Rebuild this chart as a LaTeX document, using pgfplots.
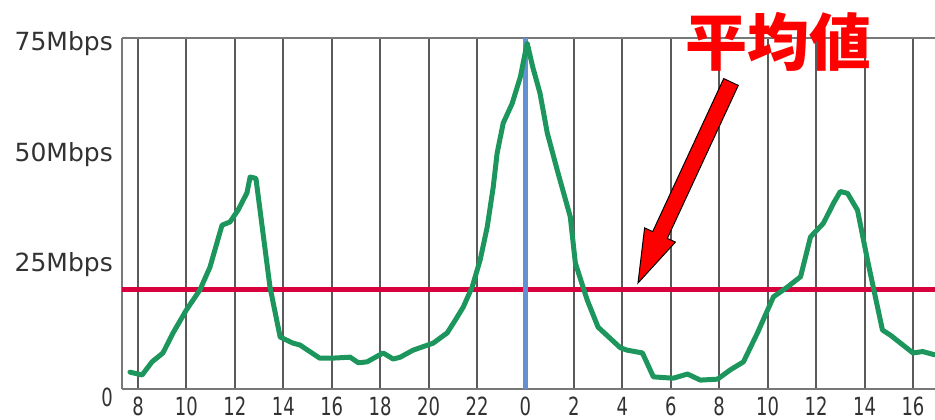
\documentclass[border=0pt]{standalone}
\usepackage{fontspec}
\usepackage{graphicx}
\usepackage{pgfplots}
\pgfplotsset{compat=1.18}
\setmainfont{DejaVu Sans}
\newfontfamily\cjk{Noto Sans CJK JP}
\definecolor{gline}{RGB}{28,150,92}
\definecolor{rline}{RGB}{215,0,60}
\definecolor{bline}{RGB}{100,145,210}
\definecolor{gridc}{RGB}{90,90,90}
\definecolor{framec}{RGB}{120,120,120}
\definecolor{labc}{RGB}{50,50,50}
\newcommand\cn[1]{\scalebox{0.72}[1]{#1}}
\pgfplotstableread{
h v
7.67 3.6
8.17 3.0
8.58 5.8
9.03 7.7
9.45 12.0
10.0 16.9
10.56 21.2
10.97 26.0
11.47 35.0
11.8 35.7
12.13 38.2
12.5 41.9
12.63 45.3
12.87 45.0
13.45 21.8
13.87 11.1
14.4 9.8
14.69 9.4
15.5 6.6
16.06 6.6
16.76 6.8
17.1 5.6
17.46 5.8
18.12 7.7
18.54 6.4
18.83 6.8
19.36 8.3
20.19 9.8
20.77 12.0
21.1 14.7
21.43 17.5
21.8 21.8
22.13 27.6
22.42 34.6
22.67 43.2
22.83 50.4
23.08 56.8
23.45 61.0
23.79 66.7
24.07 73.9
24.3 68.8
24.6 63.2
24.9 54.7
25.31 46.8
25.85 36.8
26.06 26.9
26.55 19.0
27.0 13.2
27.92 8.8
28.2 8.3
28.83 7.7
29.28 2.6
30.1 2.3
30.69 3.2
31.22 1.9
31.93 2.1
32.46 4.1
33.0 5.8
33.58 12.0
34.24 19.7
34.82 21.8
35.36 24.0
35.77 32.5
36.3 35.4
36.72 39.7
37.0 42.2
37.3 41.8
37.71 38.2
38.12 27.6
38.74 12.6
39.07 11.5
40.0 7.7
40.4 8.0
40.9 7.3
}\speed
\begin{document}
\begin{tikzpicture}[x=1pt,y=1pt]
\useasboundingbox (0,0) rectangle (935,420);
\begin{axis}[
  at={(122pt,31pt)}, anchor=south west,
  scale only axis, width=813pt, height=351pt,
  xmin=7.34, xmax=40.91, ymin=0, ymax=75,
  clip=false,
  axis line style={draw=none},
  /pgf/number format/assume math mode=true,
  xtick={8,10,...,40},
  xticklabels={\cn{8},\cn{10},\cn{12},\cn{14},\cn{16},\cn{18},\cn{20},\cn{22},\cn{0},\cn{2},\cn{4},\cn{6},\cn{8},\cn{10},\cn{12},\cn{14},\cn{16}},
  ytick={26.5,50,73.7},
  yticklabels={25Mbps,50Mbps,75Mbps},
  extra y ticks={0},
  extra y tick labels={\cn{0}},
  extra y tick style={yticklabel style={yshift=-8pt}, grid=none},
  major tick length=0pt,
  xmajorgrids,
  grid style={draw=gridc, line width=2pt},
  xticklabel style={inner sep=0pt, anchor=north, yshift=-8pt, font=\fontsize{25}{25}\selectfont, text=labc},
  yticklabel style={inner sep=0pt, anchor=east, xshift=-9pt, font=\fontsize{25}{25}\selectfont, text=labc},
]
\draw[framec, line width=2pt] (rel axis cs:0,0) -- (rel axis cs:1,0);
\draw[framec, line width=2pt] (rel axis cs:0,0) -- (rel axis cs:0,1);
\draw[framec, line width=2pt] (rel axis cs:0,1) -- (rel axis cs:1,1);
\addplot[rline, line width=5pt] coordinates {(7.34,21.2) (40.91,21.2)};
\addplot[bline, line width=4.5pt] coordinates {(24,0) (24,75)};
\addplot[gline, line width=5pt, line join=round, line cap=round] table[x=h,y=v] {\speed};
\end{axis}
\node[text=red, font=\cjk\bfseries\fontsize{62}{62}\selectfont, inner sep=0pt] at (778,378) {平均値};
\filldraw[fill=red, draw=black, line width=1pt, line join=miter]
  (638,137) -- (675.4,177.9) -- (667.3,181.6) -- (738.3,334.6) -- (723.7,341.4) -- (652.7,188.4) -- (644.6,192.1) -- cycle;
\end{tikzpicture}
\end{document}
